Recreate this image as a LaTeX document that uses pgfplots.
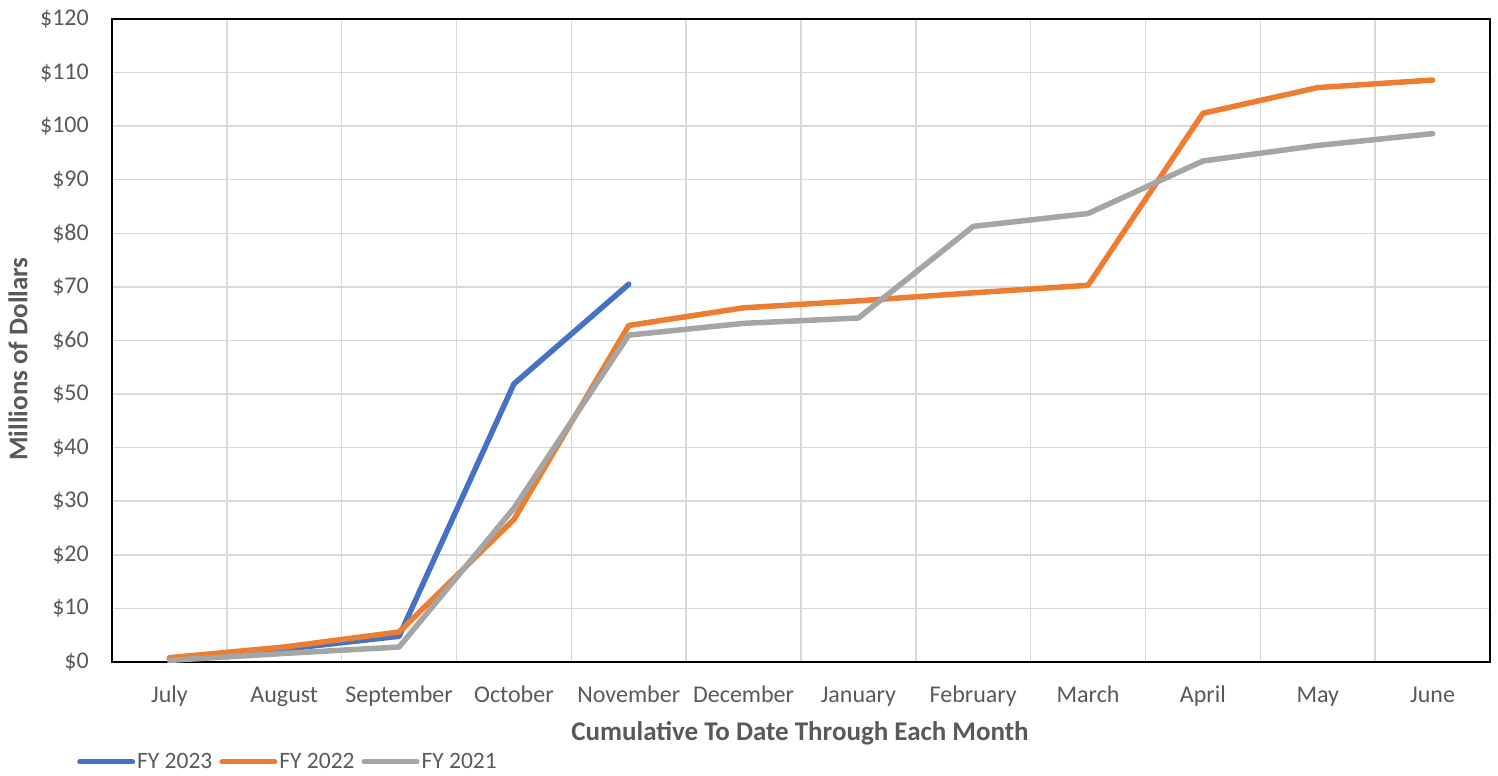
\documentclass[border=0pt]{standalone}
\usepackage{pgfplots}
\pgfplotsset{compat=1.18}
\usepackage{fontspec}
\setmainfont{Carlito}
\definecolor{cblue}{HTML}{4472C4}
\definecolor{corange}{HTML}{ED7D31}
\definecolor{cgray}{HTML}{A5A5A5}
\definecolor{txt}{HTML}{595959}
\definecolor{grd}{HTML}{D9D9D9}
\begin{document}
\begin{tikzpicture}
\begin{axis}[
  name=ax, at={(0,0)}, anchor=south west,
  scale only axis, width=1378bp, height=643bp,
  xmin=-0.5, xmax=11.5, ymin=0, ymax=120,
  xtick={0,...,11},
  xticklabels={July,August,September,October,November,December,January,February,March,April,May,June},
  minor xtick={0.5,1.5,...,10.5},
  ytick={0,10,...,120},
  yticklabel={\$\pgfmathprintnumber{\tick}},
  /pgf/number format/assume math mode=true,
  ymajorgrids, xminorgrids,
  grid style={grd, line width=1.5bp},
  major tick length=0pt, minor tick length=0pt,
  axis line style={black, line width=1.3bp},
  tick label style={font=\fontsize{24bp}{28bp}\selectfont, text=txt},
  xticklabel style={anchor=base, inner sep=0pt, yshift=-40bp},
  yticklabel style={anchor=east, inner sep=0pt, xshift=-23bp},
  xlabel={Cumulative To Date Through Each Month},
  ylabel={Millions of Dollars},
  label style={font=\fontsize{27bp}{31bp}\selectfont\bfseries, text=txt},
  xlabel style={at={(axis description cs:0.4993,-0.1104)}, anchor=center},
  ylabel style={at={(axis description cs:-0.0682,0.4712)}, anchor=center},
  legend columns=3,
  legend style={at={(axis description cs:-0.0254,-0.1555)}, anchor=west, draw=none, fill=none,
    font=\fontsize{23.5bp}{27bp}\selectfont, text=txt, inner sep=0pt,
    nodes={inner sep=2bp},
    /tikz/every even column/.append style={column sep=5bp}},
  legend image code/.code={\draw[#1, line width=5bp, line cap=round] (0bp,0bp) -- (53bp,0bp);},
  every axis plot/.append style={line width=5.5bp, line join=round, line cap=round},
  clip=false,
]
\addplot[cblue] coordinates {(0,0.6)(1,2.4)(2,4.8)(3,51.9)(4,70.5)};
\addlegendentry{FY 2023}
\addplot[corange] coordinates {(0,0.8)(1,2.8)(2,5.6)(3,26.6)(4,62.8)(5,66.1)(6,67.4)(7,68.9)(8,70.3)(9,102.4)(10,107.2)(11,108.6)};
\addlegendentry{FY 2022}
\addplot[cgray] coordinates {(0,0.3)(1,1.6)(2,2.8)(3,28.7)(4,61.0)(5,63.2)(6,64.2)(7,81.3)(8,83.7)(9,93.5)(10,96.4)(11,98.6)};
\addlegendentry{FY 2021}
\end{axis}
\pgfresetboundingbox
\path (-112bp,-114bp) rectangle (1386bp,662bp);
\end{tikzpicture}
\end{document}
